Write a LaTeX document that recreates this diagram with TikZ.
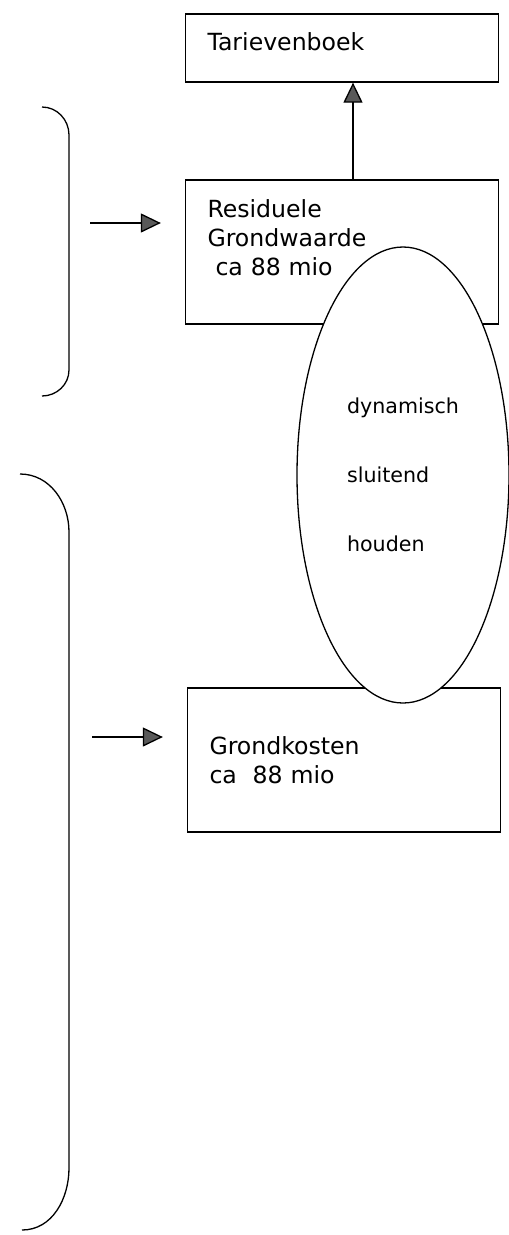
\documentclass[tikz,border=0pt]{standalone}
\usepackage{fontspec}
\setmainfont{DejaVu Sans}
\usetikzlibrary{arrows.meta,positioning,shapes.geometric}

\begin{document}
\begin{tikzpicture}[x=1pt,y=-1pt,line width=1.3pt]
	\tikzset{valbox/.style={draw,rectangle,minimum width=313pt,inner xsep=22pt,
		text width=269pt,align=left,font=\fontsize{23.6}{29}\selectfont}}
	\tikzstyle{feed}=[-{Triangle[width=19pt,length=20pt,fill=black!65]}]
	\tikzstyle{brace}=[line width=1.3pt]
	\useasboundingbox (0,0) rectangle (509,1235);

	%% boxes
	\node[valbox,minimum height=68pt] (tar) at (342,48) {Tarievenboek\\[-16pt]\mbox{}};
	\node[valbox,minimum height=144pt] (res) at (342,252)
		{Residuele\\Grondwaarde\\\hspace*{8pt}ca 88 mio\\\mbox{}};
	\node[valbox,minimum height=144pt] (gk) at (344,760) {Grondkosten\\ca\ \ 88 mio};
	\draw[feed] ([xshift=11pt]res.north) -- ([xshift=11pt]tar.south);

	%% ellipse over both boxes
	\node[draw,ellipse,fill=white,inner sep=0pt,minimum width=212pt,minimum height=456pt,
		align=left,font=\fontsize{20.6}{69}\selectfont] (dyn) at (403,475)
		{dynamisch\\sluitend\\houden};

	%% braces and arrows into the boxes
	\draw[brace] (42,107) to[out=0,in=90] (69,135) -- (69,370) to[out=-90,in=0] (42,396);
	\draw[brace] (20,474) to[out=0,in=90] (69,532) -- (69,1168) to[out=-90,in=0] (22,1230);
	\coordinate (in1) at (90,223);
	\coordinate (in2) at (92,737);
	\draw[feed,shorten >=24pt] (in1) -- (in1 -| res.west);
	\draw[feed,shorten >=24pt] (in2) -- (in2 -| gk.west);
\end{tikzpicture}
\end{document}
